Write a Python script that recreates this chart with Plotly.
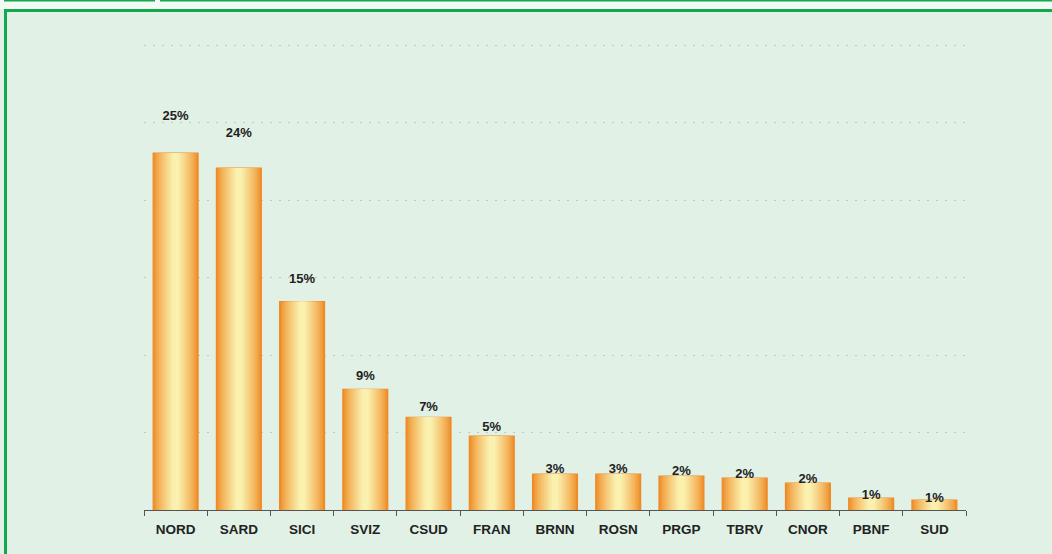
import plotly.graph_objects as go

categories = ["NORD", "SARD", "SICI", "SVIZ", "CSUD", "FRAN", "BRNN", "ROSN", "PRGP", "TBRV", "CNOR", "PBNF", "SUD"]
values = [25.0, 23.95, 14.6, 8.45, 6.5, 5.17, 2.51, 2.51, 2.37, 2.23, 1.89, 0.84, 0.70]
labels = ["25%", "24%", "15%", "9%", "7%", "5%", "3%", "3%", "2%", "2%", "2%", "1%", "1%"]

W, H = 1052, 554
L, R, T, B = 144, 966, 44, 510  # page pixel coords of plot area

def px(x):
    return (x - L) / (R - L)

def py(y):
    return (B - y) / (B - T)

orange = (239, 142, 40)
yellow = (250, 241, 175)

def mix(t):
    c = [round(orange[i] + (yellow[i] - orange[i]) * t) for i in range(3)]
    return "rgb(%d,%d,%d)" % tuple(c)

fig = go.Figure()
full_w = 0.71
n = 16
for i in range(n):
    f = i / n
    w = full_w * (1 - f)
    t = min((f * 1.15) ** 0.8, 1.0)
    fig.add_trace(go.Bar(
        x=categories, y=values, width=w,
        marker=dict(color=mix(t),
                    line=dict(color="#ee8a2a" if i == 0 else "rgba(0,0,0,0)", width=1.2 if i == 0 else 0)),
        hoverinfo="skip", showlegend=False,
    ))

fig.add_trace(go.Scatter(
    x=categories, y=[v * 1.1 + 0.05 for v in values], text=labels, mode="text",
    textfont=dict(family="Liberation Sans, Arial", size=13, color="#222222", weight="bold"),
    textposition="middle center", showlegend=False, hoverinfo="skip", cliponaxis=False,
))

step = 77.7 / (358 / 25.0)
fig.update_layout(
    width=W, height=H,
    margin=dict(l=L, r=W - R, t=T, b=H - B),
    paper_bgcolor="#e1f1e6", plot_bgcolor="#e1f1e6",
    barmode="overlay",
    xaxis=dict(
        showgrid=False, showline=True, linecolor="#555555", linewidth=1,
        ticks="outside", ticklen=5, tickcolor="#555555", tickson="boundaries",
        ticklabelstandoff=7,
        tickfont=dict(family="Liberation Sans, Arial", size=13.5, color="#222222", weight="bold"),
        range=[-0.5, len(categories) - 0.5],
    ),
    yaxis=dict(
        range=[0, step * 6 * 1.003], dtick=step, tick0=0, showticklabels=False,
        showgrid=True, gridcolor="#bccbc2", griddash="2px,7px", gridwidth=1,
        zeroline=False, showline=False,
    ),
    shapes=[
        dict(type="rect", xref="paper", yref="paper", x0=px(-20), x1=px(1070), y0=py(-20), y1=py(9),
             fillcolor="#f3f9f5", line=dict(width=0), layer="below"),
        dict(type="line", xref="paper", yref="paper", x0=px(4), x1=px(155), y0=py(0.5), y1=py(0.5),
             line=dict(color="#12a84e", width=2)),
        dict(type="line", xref="paper", yref="paper", x0=px(160), x1=px(1070), y0=py(0.5), y1=py(0.5),
             line=dict(color="#12a84e", width=2)),
        dict(type="rect", xref="paper", yref="paper", x0=px(5.5), x1=px(1080), y0=py(580), y1=py(10.5),
             fillcolor="rgba(0,0,0,0)", line=dict(color="#12a84e", width=3)),
    ],
)

fig.write_html("out.html", config={"displayModeBar": False},
               post_script="document.body.style.margin='0';")
